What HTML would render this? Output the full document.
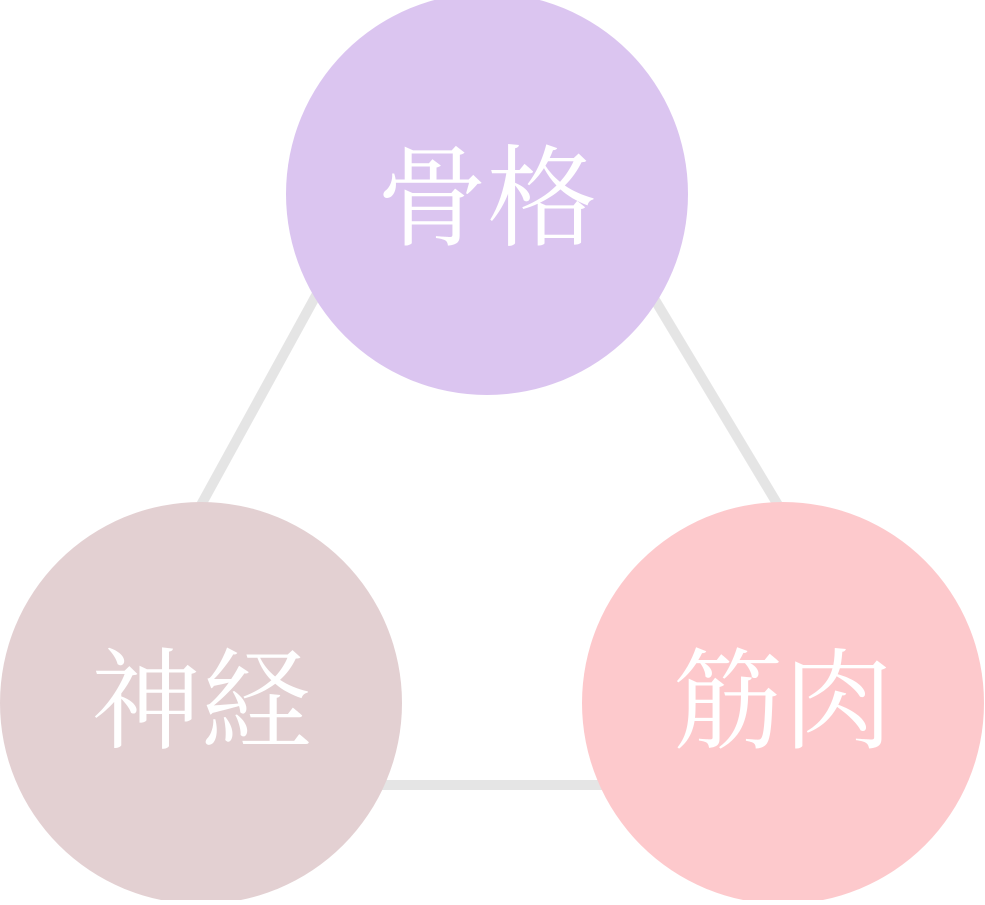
<!DOCTYPE html>
<html><head><meta charset="utf-8"><style>
html,body{margin:0;padding:0;background:#fff;}
</style></head><body>
<svg width="985" height="900" viewBox="0 0 985 900" xmlns="http://www.w3.org/2000/svg">
<g stroke="#e5e5e5" stroke-width="10" fill="none">
<line x1="330" y1="270" x2="190" y2="525"/>
<line x1="640" y1="275" x2="790" y2="525"/>
<line x1="360" y1="785" x2="620" y2="785"/>
</g>
<circle cx="487" cy="194" r="201" fill="#dbc5f0"/>
<circle cx="201" cy="703" r="201" fill="#e3d0d2"/>
<circle cx="783" cy="703" r="201" fill="#fdc9cc"/>
<g fill="#fff" font-family="'Liberation Serif','Noto Serif CJK SC','Noto Serif CJK JP',serif" font-size="110" text-anchor="middle">
<text x="487" y="237">骨格</text>
<text x="201" y="740">神経</text>
<text x="783" y="740">筋肉</text>
</g>
</svg>
</body></html>
